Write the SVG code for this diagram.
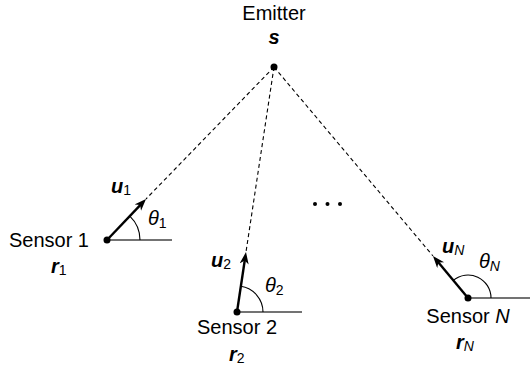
<svg xmlns="http://www.w3.org/2000/svg" width="531" height="372" viewBox="0 0 531 372">
<style>
text{font-family:"Liberation Sans",Arial,sans-serif;fill:#000}
.lbl{font-size:20px}
.vec{font-size:20px;font-weight:bold;font-style:italic}
.sub{font-size:14px;font-weight:normal;font-style:normal}
.subi{font-size:14px;font-weight:normal;font-style:italic}
.th{font-size:20px;font-style:italic}
.dash{stroke:#000;stroke-width:1.1;stroke-dasharray:4,3;fill:none}
.base{stroke:#444;stroke-width:1.3;fill:none}
.arc{stroke:#000;stroke-width:1.1;fill:none}
.vecl{stroke:#000;stroke-width:2.4;fill:none;marker-end:url(#ah)}
</style>
<defs>
<marker id="ah" markerUnits="userSpaceOnUse" markerWidth="14" markerHeight="10" refX="6" refY="4.5" orient="auto">
<path d="M0,0 L12,4.5 L0,9 L3.5,4.5 z" fill="#000"/>
</marker>
</defs>
<g id="connectors">
<line class="dash" x1="274" y1="67" x2="146" y2="199"/>
<line class="dash" x1="274" y1="67" x2="246" y2="252"/>
<line class="dash" x1="274" y1="67" x2="433" y2="256"/>
</g>
<g id="emitter">
<text class="lbl" x="274" y="20" text-anchor="middle">Emitter</text>
<text class="vec" x="274" y="44" text-anchor="middle">s</text>
<circle cx="274" cy="67" r="3.5"/>
</g>
<g id="sensor1">
<line class="base" x1="107" y1="240" x2="172" y2="240"/>
<path class="arc" d="M129.8,216.1 A33,33 0 0 1 140,240"/>
<line class="vecl" x1="107" y1="240" x2="141.9" y2="203.3"/>
<circle cx="107" cy="240" r="3.5"/>
<text class="vec" x="111" y="193">u<tspan class="sub" dy="2">1</tspan></text>
<text class="th" x="148" y="225">θ<tspan class="sub" dy="3">1</tspan></text>
<text class="lbl" x="89" y="247" text-anchor="end">Sensor 1</text>
<text class="vec" x="51" y="273">r<tspan class="sub" dy="2">1</tspan></text>
</g>
<g id="sensor2">
<line class="base" x1="237" y1="312" x2="302" y2="312"/>
<path class="arc" d="M240.8,286.3 A26,26 0 0 1 263,312"/>
<line class="vecl" x1="237" y1="312" x2="245.1" y2="258"/>
<circle cx="237" cy="312" r="3.5"/>
<text class="vec" x="211" y="267">u<tspan class="sub" dy="2">2</tspan></text>
<text class="th" x="265" y="292">θ<tspan class="sub" dy="3">2</tspan></text>
<text class="lbl" x="237" y="334" text-anchor="middle">Sensor 2</text>
<text class="vec" x="229" y="361">r<tspan class="sub" dy="2">2</tspan></text>
</g>
<g id="ellipsis">
<circle cx="315" cy="204" r="2"/>
<circle cx="327.5" cy="204" r="2"/>
<circle cx="340" cy="204" r="2"/>
</g>
<g id="sensorN">
<line class="base" x1="468" y1="298" x2="530" y2="298"/>
<path class="arc" d="M453.3,280.3 A23,23 0 0 1 491,298"/>
<line class="vecl" x1="468" y1="298" x2="436.8" y2="260.6"/>
<circle cx="468" cy="298" r="3.5"/>
<text class="vec" x="442" y="253">u<tspan class="subi" dy="2">N</tspan></text>
<text class="th" x="479" y="268">θ<tspan class="subi" dy="3">N</tspan></text>
<text class="lbl" x="468" y="323" text-anchor="middle">Sensor <tspan style="font-style:italic">N</tspan></text>
<text class="vec" x="456" y="349">r<tspan class="subi" dy="2">N</tspan></text>
</g>
</svg>
